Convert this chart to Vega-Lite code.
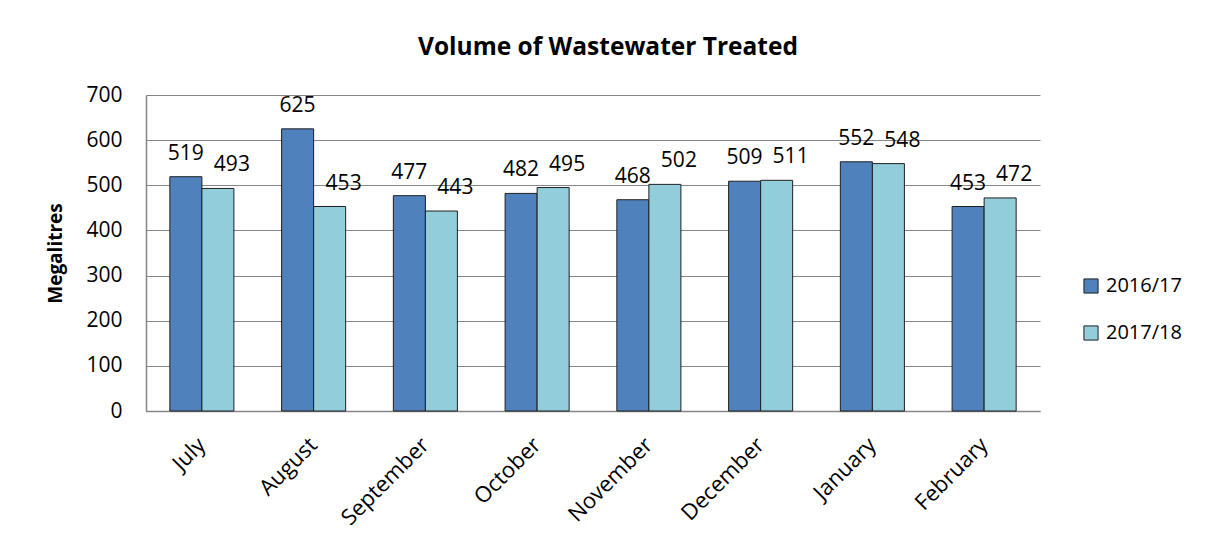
{
  "$schema": "https://vega.github.io/schema/vega-lite/v6.json",
  "width": 894,
  "height": 316,
  "autosize": "none",
  "padding": {"left": 146, "top": 95, "right": 165, "bottom": 135},
  "background": "white",
  "config": {
    "font": "Open Sans",
    "view": {"stroke": null}
  },
  "title": {
    "text": "Volume of Wastewater Treated",
    "font": "Open Sans",
    "fontSize": 24.5,
    "fontWeight": "bold",
    "color": "#000000",
    "anchor": "middle",
    "dx": 15,
    "offset": 24
  },
  "data": {
    "values": [
      {"month": "July", "year": "2016/17", "ml": 519},
      {"month": "July", "year": "2017/18", "ml": 493},
      {"month": "August", "year": "2016/17", "ml": 625},
      {"month": "August", "year": "2017/18", "ml": 453},
      {"month": "September", "year": "2016/17", "ml": 477},
      {"month": "September", "year": "2017/18", "ml": 443},
      {"month": "October", "year": "2016/17", "ml": 482},
      {"month": "October", "year": "2017/18", "ml": 495},
      {"month": "November", "year": "2016/17", "ml": 468},
      {"month": "November", "year": "2017/18", "ml": 502},
      {"month": "December", "year": "2016/17", "ml": 509},
      {"month": "December", "year": "2017/18", "ml": 511},
      {"month": "January", "year": "2016/17", "ml": 552},
      {"month": "January", "year": "2017/18", "ml": 548},
      {"month": "February", "year": "2016/17", "ml": 453},
      {"month": "February", "year": "2017/18", "ml": 472}
    ]
  },
  "encoding": {
    "x": {
      "field": "month",
      "type": "nominal",
      "sort": null,
      "scale": {"paddingInner": 0.427, "paddingOuter": 0.2135},
      "axis": {
        "title": null,
        "labelAngle": -45,
        "labelAlign": "right",
        "labelBaseline": "middle",
        "labelFontSize": 22,
        "labelColor": "#000000",
        "labelPadding": 30,
        "ticks": false,
        "domainColor": "#868686",
        "domainWidth": 1.5
      }
    },
    "xOffset": {"field": "year", "type": "nominal", "scale": {"paddingInner": 0, "paddingOuter": 0}},
    "y": {
      "field": "ml",
      "type": "quantitative",
      "scale": {"domain": [0, 700], "nice": false},
      "axis": {
        "title": "Megalitres",
        "titleFont": "Open Sans",
        "titleFontSize": 19,
        "titleFontWeight": "bold",
        "titleColor": "#000000",
        "titlePadding": 20,
        "values": [0, 100, 200, 300, 400, 500, 600, 700],
        "labelFontSize": 21,
        "labelColor": "#000000",
        "labelPadding": 24,
        "ticks": false,
        "grid": true,
        "gridColor": "#868686",
        "gridWidth": 1,
        "domainColor": "#868686",
        "domainWidth": 1.5
      }
    }
  },
  "layer": [
    {
      "mark": {"type": "bar", "stroke": "#1f1f1f", "strokeWidth": 1},
      "encoding": {
        "color": {
          "field": "year",
          "type": "nominal",
          "scale": {"domain": ["2016/17", "2017/18"], "range": ["#4F81BD", "#92CDDC"]},
          "legend": {
            "title": null,
            "orient": "none",
            "legendX": 935,
            "legendY": 181,
            "symbolType": "square",
            "symbolSize": 200,
            "symbolStrokeColor": "#1f1f1f",
            "symbolStrokeWidth": 1,
            "labelFontSize": 20,
            "labelColor": "#000000",
            "labelOffset": 5,
            "rowPadding": 27
          }
        }
      }
    },
    {
      "transform": [{"filter": "datum.year === '2016/17'"}],
      "mark": {"type": "text", "baseline": "alphabetic", "dy": -17, "fontSize": 21, "color": "#000000"},
      "encoding": {
        "text": {"field": "ml", "type": "quantitative"}
      }
    },
    {
      "transform": [{"filter": "datum.year === '2017/18'"}],
      "mark": {"type": "text", "baseline": "alphabetic", "dx": 14, "dy": -17, "fontSize": 21, "color": "#000000"},
      "encoding": {
        "text": {"field": "ml", "type": "quantitative"}
      }
    }
  ]
}
